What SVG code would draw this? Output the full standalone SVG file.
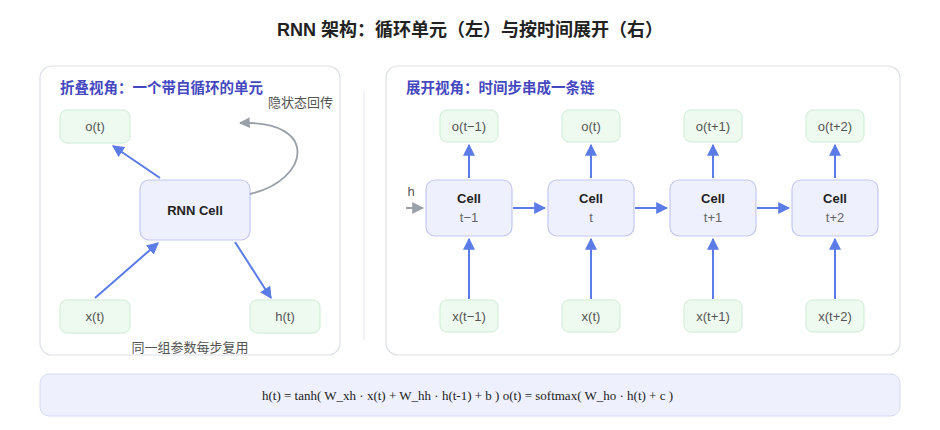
<svg xmlns="http://www.w3.org/2000/svg" width="940" height="430" viewBox="0 0 940 430">
<style>
text{font-family:"Liberation Sans","Noto Sans CJK SC",sans-serif}
.panel{fill:#fff;stroke:#dcdfe8;stroke-width:1.2}
.io{fill:#eefaf0;stroke:#cdebd3;stroke-width:1}
.cell{fill:#eef0fd;stroke:#c3c8ef;stroke-width:1.2}
.lbl{font-size:13px;fill:#555;text-anchor:middle}
.ct{font-size:13px;font-weight:bold;fill:#222;text-anchor:middle}
.sub{font-size:13px;fill:#666;text-anchor:middle}
.hd{font-size:14.5px;font-weight:bold;fill:#4548c0}
.ar{stroke:#5b7be6;stroke-width:2;fill:none;marker-end:url(#ab)}
</style>
<defs>
<marker id="ab" viewBox="0 0 10 10" refX="9" refY="5" markerWidth="6" markerHeight="6" orient="auto"><path d="M0,0L10,5L0,10z" fill="#5b7be6"/></marker>
<marker id="ag" viewBox="0 0 10 10" refX="9" refY="5" markerWidth="6" markerHeight="6" orient="auto"><path d="M0,0L10,5L0,10z" fill="#9aa0a8"/></marker>
</defs>
<rect width="940" height="430" fill="#fff"/>
<text x="470" y="36" text-anchor="middle" font-size="18" font-weight="bold" fill="#222">RNN 架构：循环单元（左）与按时间展开（右）</text>
<rect class="panel" x="40" y="66" width="300" height="289" rx="12"/>
<rect class="panel" x="386" y="66" width="514" height="289" rx="12"/>
<line x1="364" y1="90" x2="364" y2="340" stroke="#e6e8ee"/>
<text class="hd" x="60" y="93">折叠视角：一个带自循环的单元</text>
<text class="hd" x="406" y="93">展开视角：时间步串成一条链</text>
<g id="left-o"><rect class="io" x="60" y="110" width="70" height="33" rx="7"/><text class="lbl" x="95" y="131">o(t)</text></g>
<g id="left-cell"><rect class="cell" x="140" y="180" width="110" height="60" rx="9"/><text class="ct" x="195" y="215">RNN Cell</text></g>
<g id="left-x"><rect class="io" x="60" y="300" width="70" height="33" rx="7"/><text class="lbl" x="95" y="321">x(t)</text></g>
<g id="left-h"><rect class="io" x="250" y="300" width="70" height="33" rx="7"/><text class="lbl" x="285" y="321">h(t)</text></g>
<text x="268" y="107" font-size="13" fill="#555">隐状态回传</text>
<text x="190" y="352" font-size="13" fill="#555" text-anchor="middle">同一组参数每步复用</text>
<g id="cells">
<g id="c1"><rect class="cell" x="426" y="180" width="86" height="56" rx="9"/><text class="ct" x="469" y="203">Cell</text><text class="sub" x="469" y="222">t−1</text></g>
<g id="c2"><rect class="cell" x="548" y="180" width="86" height="56" rx="9"/><text class="ct" x="591" y="203">Cell</text><text class="sub" x="591" y="222">t</text></g>
<g id="c3"><rect class="cell" x="670" y="180" width="86" height="56" rx="9"/><text class="ct" x="713" y="203">Cell</text><text class="sub" x="713" y="222">t+1</text></g>
<g id="c4"><rect class="cell" x="792" y="180" width="86" height="56" rx="9"/><text class="ct" x="835" y="203">Cell</text><text class="sub" x="835" y="222">t+2</text></g>
<g id="o1"><rect class="io" x="440" y="110" width="58" height="32" rx="7"/><text class="lbl" x="469" y="131">o(t−1)</text></g>
<g id="o2"><rect class="io" x="562" y="110" width="58" height="32" rx="7"/><text class="lbl" x="591" y="131">o(t)</text></g>
<g id="o3"><rect class="io" x="684" y="110" width="58" height="32" rx="7"/><text class="lbl" x="713" y="131">o(t+1)</text></g>
<g id="o4"><rect class="io" x="806" y="110" width="58" height="32" rx="7"/><text class="lbl" x="835" y="131">o(t+2)</text></g>
<g id="x1"><rect class="io" x="440" y="300" width="58" height="32" rx="7"/><text class="lbl" x="469" y="321">x(t−1)</text></g>
<g id="x2"><rect class="io" x="562" y="300" width="58" height="32" rx="7"/><text class="lbl" x="591" y="321">x(t)</text></g>
<g id="x3"><rect class="io" x="684" y="300" width="58" height="32" rx="7"/><text class="lbl" x="713" y="321">x(t+1)</text></g>
<g id="x4"><rect class="io" x="806" y="300" width="58" height="32" rx="7"/><text class="lbl" x="835" y="321">x(t+2)</text></g>
</g>
<text x="411" y="196" font-size="13" fill="#555" text-anchor="middle">h</text>
<g id="connectors">
<line class="ar" x1="160" y1="178" x2="113" y2="146"/>
<line class="ar" x1="95" y1="298" x2="158" y2="243"/>
<line class="ar" x1="235" y1="242" x2="271" y2="298"/>
<path d="M250,194 C310,180 320,120 240,123" stroke="#9aa0a8" stroke-width="1.8" fill="none" marker-end="url(#ag)"/>
<line x1="406" y1="208" x2="423" y2="208" stroke="#9aa0a8" stroke-width="2" marker-end="url(#ag)"/>
<line class="ar" x1="513" y1="208" x2="545" y2="208"/>
<line class="ar" x1="635" y1="208" x2="667" y2="208"/>
<line class="ar" x1="757" y1="208" x2="789" y2="208"/>
<line class="ar" x1="469" y1="178" x2="469" y2="145"/>
<line class="ar" x1="591" y1="178" x2="591" y2="145"/>
<line class="ar" x1="713" y1="178" x2="713" y2="145"/>
<line class="ar" x1="835" y1="178" x2="835" y2="145"/>
<line class="ar" x1="469" y1="299" x2="469" y2="239"/>
<line class="ar" x1="591" y1="299" x2="591" y2="239"/>
<line class="ar" x1="713" y1="299" x2="713" y2="239"/>
<line class="ar" x1="835" y1="299" x2="835" y2="239"/>
</g>
<rect x="40" y="374" width="860" height="42" rx="9" fill="#eef0fd" stroke="#d6daf5"/>
<text x="262" y="400" font-size="13" fill="#222" style="font-family:'Liberation Serif',serif">h(t) = tanh( W_xh · x(t) + W_hh · h(t-1) + b ) o(t) = softmax( W_ho · h(t) + c )</text>
</svg>
